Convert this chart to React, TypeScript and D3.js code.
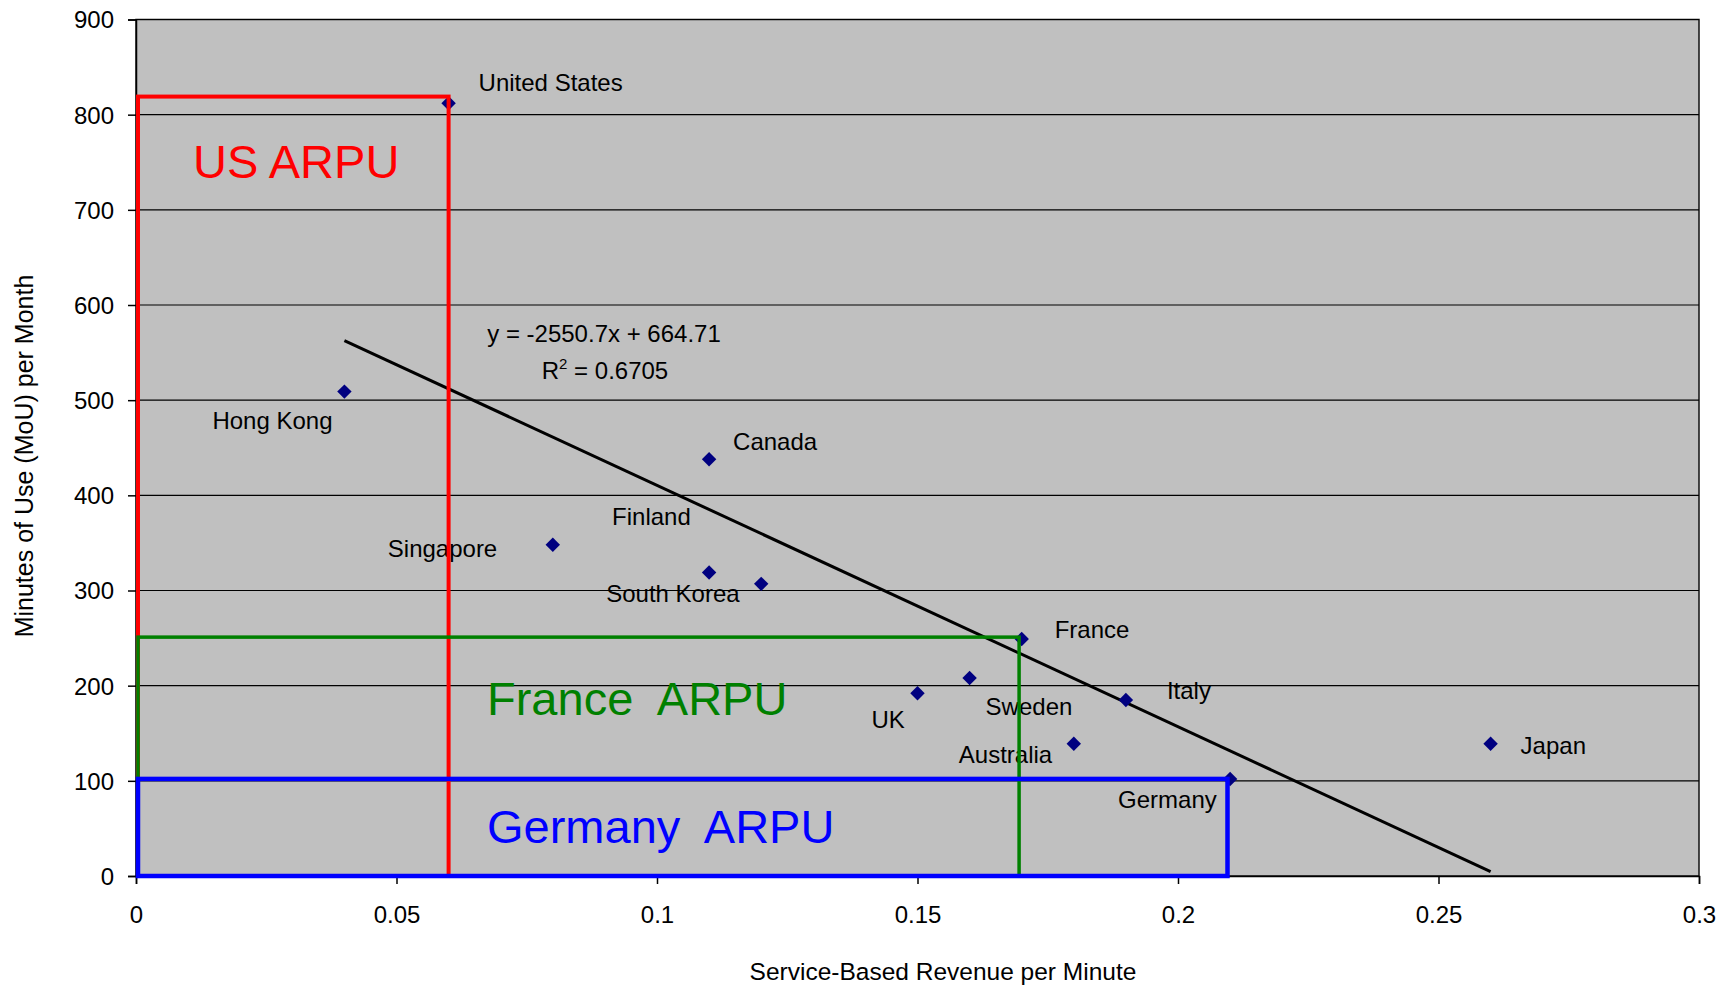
import React, { useEffect, useRef } from 'react';
import * as d3 from 'd3';

// Service-based revenue per minute vs minutes of use, by country
const countries = ['United States', 'Hong Kong', 'Canada', 'Singapore', 'Finland', 'South Korea', 'France', 'UK', 'Sweden', 'Italy', 'Australia', 'Japan', 'Germany'];
const revenuePerMinute = [0.06, 0.04, 0.11, 0.08, 0.11, 0.12, 0.17, 0.15, 0.16, 0.19, 0.18, 0.26, 0.21];
const minutesOfUse = [812, 509, 438, 348, 319, 307, 249, 192, 208, 185, 139, 139, 102];

// label placement relative to each marker (px)
const labelOffsets: [number, number][] = [
    [30, -12], [-132, 37], [24, -9], [-165, 12], [-97, -47], [-155, 18],
    [33, -1], [-46, 35], [16, 37], [41, -1], [-115, 19], [30, 10], [-112, 29]
];

const xTicks = [0, 0.05, 0.1, 0.15, 0.2, 0.25, 0.3];
const yTicks = [0, 100, 200, 300, 400, 500, 600, 700, 800, 900];

// linear trend reported on the chart
const trendSlope = -2550.7;
const trendIntercept = 664.71;
const trendRange = [0.04, 0.26];

// ARPU boxes: label, revenue/min, MoU
const arpuLabels = ['US ARPU', 'France  ARPU', 'Germany  ARPU'];
const arpuRevenue = [0.06, 0.1695, 0.2095];
const arpuMinutes = [819, 251, 102];

const W = 1731;
const H = 986;
const FONT = '"Liberation Sans", Arial, sans-serif';

export default function App() {
    const svgRef = useRef<SVGSVGElement>(null);

    useEffect(() => {
        if (!svgRef.current) return;
        const svg = d3.select(svgRef.current);
        svg.selectAll('*').remove();

        const left = 136, right = 1699, top = 19.5, bottom = 876;

        const x = d3.scaleLinear().domain([0, 0.3]).range([left, right]);
        const y = d3.scaleLinear().domain([0, 900]).range([bottom, top]);

        svg.append('rect').attr('width', W).attr('height', H).attr('fill', '#fff');

        // plot area
        svg.append('rect')
            .attr('x', left).attr('y', top)
            .attr('width', right - left).attr('height', bottom - top)
            .attr('fill', '#C0C0C0')
            .attr('stroke', '#111').attr('stroke-width', 1.5);

        // gridlines
        svg.append('g')
            .selectAll('line')
            .data(yTicks.slice(1))
            .join('line')
            .attr('x1', left).attr('x2', right)
            .attr('y1', d => y(d)).attr('y2', d => y(d))
            .attr('stroke', '#000').attr('stroke-width', 1.2);

        // axes
        const yAxis = svg.append('g')
            .attr('transform', `translate(${left},0)`)
            .call(d3.axisLeft(y).tickValues(yTicks).tickSize(8).tickPadding(14).tickFormat(d => `${d}`));
        const xAxis = svg.append('g')
            .attr('transform', `translate(0,${bottom})`)
            .call(d3.axisBottom(x).tickValues(xTicks).tickSize(8).tickPadding(22).tickFormat(d => `${+d}`));

        [yAxis, xAxis].forEach(ax => {
            ax.selectAll('path').attr('stroke', '#000').attr('stroke-width', 1.5);
            ax.selectAll('line').attr('stroke', '#000').attr('stroke-width', 1.5);
            ax.selectAll('text')
                .attr('fill', '#000')
                .style('font-family', FONT)
                .style('font-size', '24px');
        });
        yAxis.selectAll('text').attr('dy', '0.35em');

        // axis titles
        svg.append('text')
            .attr('x', 943).attr('y', 980)
            .attr('text-anchor', 'middle')
            .style('font-family', FONT).style('font-size', '24.5px')
            .text('Service-Based Revenue per Minute');

        svg.append('text')
            .attr('transform', `translate(33,456) rotate(-90)`)
            .attr('text-anchor', 'middle')
            .style('font-family', FONT).style('font-size', '25px')
            .text('Minutes of Use (MoU) per Month');

        // trendline (kept inside the plot area)
        const yAt = (v: number) => Math.max(0, trendSlope * v + trendIntercept);
        svg.append('line')
            .attr('x1', x(trendRange[0])).attr('y1', y(yAt(trendRange[0])) )
            .attr('x2', x(trendRange[1])).attr('y2', y(yAt(trendRange[1])) - 3)
            .attr('stroke', '#000').attr('stroke-width', 3);

        const eq = svg.append('g').style('font-family', FONT).style('font-size', '24px');
        eq.append('text').attr('x', 604).attr('y', 342).attr('text-anchor', 'middle')
            .text(`y = ${trendSlope}x + ${trendIntercept}`);
        const r2 = eq.append('text').attr('x', 605).attr('y', 379).attr('text-anchor', 'middle');
        r2.append('tspan').text('R');
        r2.append('tspan').attr('dy', -10).style('font-size', '15px').text('2');
        r2.append('tspan').attr('dy', 10).text(' = 0.6705');

        // markers
        const diamond = d3.symbol(d3.symbolSquare, 104);
        svg.append('g')
            .selectAll('path')
            .data(countries)
            .join('path')
            .attr('d', diamond)
            .attr('transform', (_, i) => `translate(${x(revenuePerMinute[i])},${y(minutesOfUse[i])}) rotate(45)`)
            .attr('fill', '#000080');

        // country labels
        svg.append('g')
            .selectAll('text')
            .data(countries)
            .join('text')
            .attr('x', (_, i) => x(revenuePerMinute[i]) + labelOffsets[i][0])
            .attr('y', (_, i) => y(minutesOfUse[i]) + labelOffsets[i][1])
            .style('font-family', FONT).style('font-size', '24px')
            .attr('fill', '#000')
            .text(d => d);

        // ARPU boxes
        const boxColors = ['#FF0000', '#008000', '#0000FF'];
        const boxWidths = [4, 3.5, 4.5];
        const boxLabelY = [178, 715, 843];
        arpuLabels.forEach((label, i) => {
            svg.append('rect')
                .attr('x', x(0) + 2)
                .attr('y', y(arpuMinutes[i]))
                .attr('width', x(arpuRevenue[i]) - x(0) - 2)
                .attr('height', y(0) - y(arpuMinutes[i]))
                .attr('fill', 'none')
                .attr('stroke', boxColors[i])
                .attr('stroke-width', boxWidths[i]);
            svg.append('text')
                .attr('x', i === 0 ? 193 : 487)
                .attr('y', boxLabelY[i])
                .attr('fill', boxColors[i])
                .style('font-family', FONT).style('font-size', '47px')
                .style('white-space', 'pre')
                .text(label);
        });
    }, []);

    return (
        <svg ref={svgRef} width={W} height={H}
            style={{ position: 'absolute', left: 0, top: 0, display: 'block' }} />
    );
}
